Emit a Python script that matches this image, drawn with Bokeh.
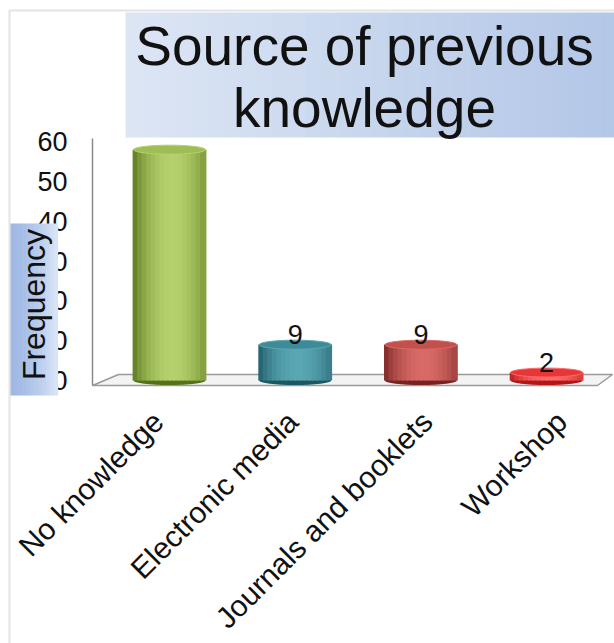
import math
from bokeh.plotting import figure
from bokeh.models import BoxAnnotation, Label, FixedTicker, ColumnDataSource
from bokeh.core.properties import value
from bokeh.embed import file_html
from bokeh.resources import INLINE

# ---- data ----
categories = ["No knowledge", "Electronic media", "Journals and booklets", "Workshop"]
frequencies = [58, 9, 9, 2]
shown_labels = ["", "9", "9", "2"]
y_ticks = [0, 10, 20, 30, 40, 50, 60]

# ---- styling ----
FONT = "Liberation Sans"
dark_cols = ["#557219", "#1b5864", "#762321", "#b31616"]
light_cols = ["#b5d06c", "#5aa6b3", "#d86a66", "#ff6a6a"]
top_cols = ["#9fbd55", "#3e8b98", "#c2504c", "#e83636"]

W, H = 614, 643
SX = 125.7          # px per category step
SY = 3.98           # px per unit
X0 = -169 / SX      # data x at canvas left
X1 = X0 + W / SX
Y0 = -(H - 380) / SY
Y1 = Y0 + H / SY


def dx(px):
    return X0 + px / SX


def dy(py):
    return Y0 + (H - py) / SY


def mix(c1, c2, t):
    a = [int(c1[k:k + 2], 16) for k in (1, 3, 5)]
    b = [int(c2[k:k + 2], 16) for k in (1, 3, 5)]
    return "#%02x%02x%02x" % tuple(int(round(a[j] + (b[j] - a[j]) * t)) for j in range(3))


# frame covers the whole canvas; axes are drawn at fixed locations
p = figure(width=W, height=H, x_range=(X0, X1), y_range=(Y0, Y1),
           output_backend="svg", toolbar_location=None,
           min_border_left=0, min_border_right=0, min_border_top=0, min_border_bottom=0)
p.outline_line_color = None
p.xgrid.visible = False
p.ygrid.visible = False
p.background_fill_color = "white"
p.border_fill_color = "white"

# title box (gradient imitation)
tb_l, tb_r, NT = 125, 616, 30
step = (tb_r - tb_l) / NT
for i in range(NT):
    c = mix("#dce5f4", "#b3c7e7", i / (NT - 1))
    p.add_layout(BoxAnnotation(left=dx(tb_l + i * step), right=dx(tb_l + (i + 1) * step + 0.6),
                               top=dy(12), bottom=dy(137), fill_color=c, fill_alpha=1,
                               line_color=None, level="underlay"))
p.add_layout(Label(x=dx(364), y=dy(76), text="Source of previous\nknowledge",
                   text_align="center", text_baseline="middle",
                   text_font=FONT, text_font_size="55px", text_color="#111111",
                   text_line_height=1.0))

# floor
p.patch([dx(92), dx(597), dx(612), dx(118)], [dy(385), dy(385), dy(374), dy(374)],
        fill_color="#f3f3f3", line_color="#9a9a9a", line_width=1.5)

# cylinders
xs = list(range(len(categories)))
bw = 72 / SX
N = 16

p.ellipse(x=xs, y=[0] * len(xs), width=bw, height=9, width_units="data", height_units="screen",
          fill_color=dark_cols, line_color=None)
for k in range(N):
    t = (k + 0.5) / N
    s = math.sin(math.pi * min(1.0, t / 1.1)) ** 0.7
    cols = [mix(dark_cols[i], light_cols[i], s) for i in range(len(xs))]
    off = -bw / 2 + (k + 0.5) * bw / N
    p.vbar(x=[x + off for x in xs], top=frequencies, bottom=0, width=bw / N * 1.4,
           fill_color=cols, line_color=None)
p.ellipse(x=xs, y=frequencies, width=bw, height=9, width_units="data", height_units="screen",
          fill_color=top_cols, line_color=light_cols, line_width=1)

# value labels
src = ColumnDataSource(dict(x=xs, y=frequencies, t=shown_labels))
p.text(x="x", y="y", text="t", source=src, y_offset=-10, text_align="center",
       text_baseline="middle", text_font=value(FONT), text_font_size="27px", text_color="#111111")

# axes
p.yaxis.fixed_location = dx(92)
p.yaxis.ticker = FixedTicker(ticks=y_ticks)
p.yaxis.bounds = (dy(385), dy(138))
p.yaxis.axis_line_color = "#8a8a8a"
p.yaxis.axis_line_width = 1.5
p.yaxis.major_tick_line_color = None
p.yaxis.minor_tick_line_color = None
p.yaxis.major_tick_out = 0
p.yaxis.major_label_standoff = 25
p.yaxis.major_label_text_font = FONT
p.yaxis.major_label_text_font_size = "27px"
p.yaxis.major_label_text_color = "#111111"

tick_pos = [round(-0.09 + i * 1.07, 2) for i in range(len(categories))]
p.xaxis.fixed_location = dy(388)
p.xaxis.ticker = FixedTicker(ticks=tick_pos)
p.xaxis.major_label_overrides = {tp: c for tp, c in zip(tick_pos, categories)}
p.xaxis.major_label_orientation = math.pi / 4
p.xaxis.axis_line_color = None
p.xaxis.major_tick_line_color = None
p.xaxis.minor_tick_line_color = None
p.xaxis.major_tick_out = 0
p.xaxis.major_label_standoff = 28
p.xaxis.major_label_text_font = FONT
p.xaxis.major_label_text_font_size = "30px"
p.xaxis.major_label_text_color = "#111111"

# "Frequency" box over the axis labels
fl, fr, NF = 10, 57, 12
st = (fr - fl) / NF
for i in range(NF):
    c = mix("#9fb9e5", "#d8e3f5", (i / (NF - 1)) ** 1.5)
    p.add_layout(BoxAnnotation(left=dx(fl + i * st), right=dx(fl + (i + 1) * st + 0.6),
                               top=dy(223), bottom=dy(395), fill_color=c, fill_alpha=1,
                               line_color=None, level="overlay"))
p.add_layout(Label(x=dx(33), y=dy(304), text="Frequency", angle=math.pi / 2,
                   text_align="center", text_baseline="middle",
                   text_font=FONT, text_font_size="32px", text_color="#111111", level="overlay"))

# outer frame line
p.add_layout(BoxAnnotation(left=dx(9), right=dx(900), top=dy(10), bottom=dy(900),
                           fill_color=None, line_color="#a3a3a3", line_width=2, level="overlay"))

open("out.html", "w").write(file_html(p, INLINE))
